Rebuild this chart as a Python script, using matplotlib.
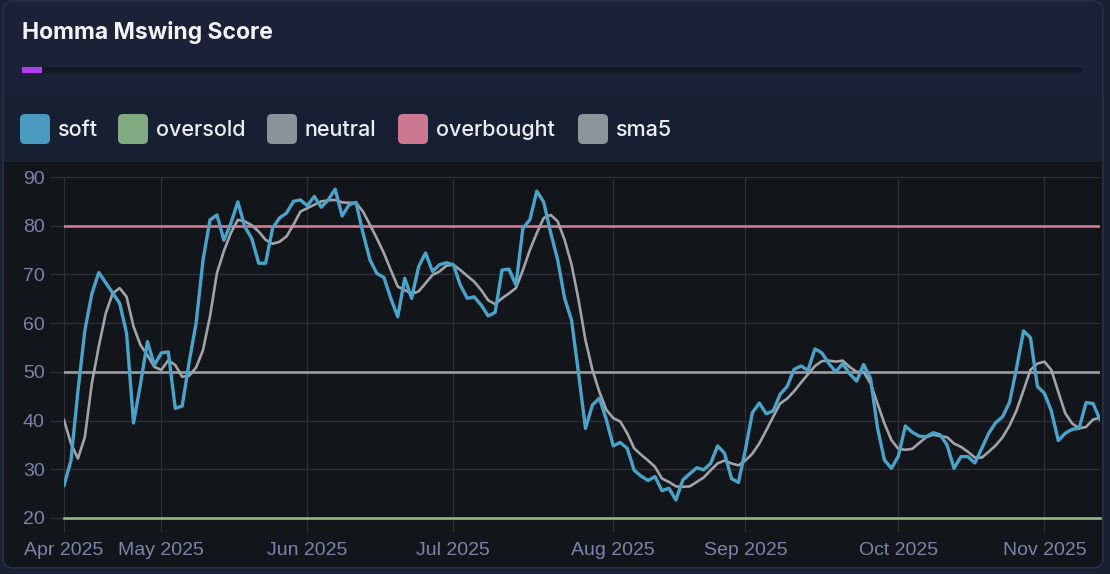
#=========================================================================
import numpy as np
import matplotlib
matplotlib.use('Agg')
import matplotlib.pyplot as plt
from matplotlib.patches import FancyBboxPatch
from matplotlib.transforms import IdentityTransform

#=========================================================================
title = 'Homma Mswing Score'

soft = [26.7, 31.8, 46.0, 58.5, 66.0, 70.4, 68.3, 66.2, 64.1, 57.9,
        39.5, 47.5, 56.2, 51.4, 53.9, 54.1, 42.5, 43.0, 52.0, 60.0,
        73.0, 81.2, 82.2, 77.0, 80.5, 84.9, 79.8, 77.4, 72.3, 72.3,
        79.5, 81.6, 82.6, 85.0, 85.3, 84.1, 86.0, 83.8, 85.3, 87.5,
        82.0, 84.3, 84.8, 78.5, 73.0, 70.2, 69.4, 65.1, 61.3, 69.2,
        65.1, 71.6, 74.4, 70.6, 72.0, 72.4, 72.0, 67.8, 65.1, 65.4,
        63.7, 61.5, 62.2, 70.9, 71.1, 67.8, 79.5, 81.2, 87.1, 84.8,
        78.5, 73.0, 65.1, 60.6, 49.7, 38.4, 43.2, 44.6, 40.2, 34.8,
        35.5, 34.3, 29.8, 28.6, 27.7, 28.5, 25.6, 26.1, 23.7, 27.8,
        29.1, 30.3, 29.9, 31.2, 34.8, 33.3, 28.1, 27.3, 34.0, 41.6,
        43.6, 41.4, 42.0, 45.4, 47.0, 50.5, 51.2, 50.3, 54.7, 53.9,
        51.7, 50.0, 51.7, 49.6, 48.1, 51.5, 48.6, 38.5, 31.9, 30.2,
        32.7, 38.9, 37.6, 36.8, 36.7, 37.5, 37.1, 35.0, 30.2, 32.6,
        32.6, 31.3, 34.3, 37.4, 39.6, 40.8, 43.8, 50.8, 58.4, 57.0,
        47.0, 45.6, 42.0, 35.9, 37.4, 38.2, 38.4, 43.7, 43.5, 40.2]

sma5 = [40.1, 35.3, 32.2, 36.6, 47.6, 55.2, 62.0, 66.1, 67.2, 65.4,
        59.3, 55.5, 53.4, 51.0, 50.4, 52.4, 51.4, 49.0, 49.2, 50.9,
        54.5, 61.4, 70.3, 74.8, 78.5, 81.2, 80.9, 80.1, 78.8, 77.1,
        76.3, 76.7, 77.8, 80.2, 82.9, 83.6, 84.3, 85.0, 85.2, 85.3,
        84.8, 84.7, 84.7, 82.9, 80.2, 77.4, 74.4, 70.9, 67.5, 66.8,
        66.0, 66.5, 68.2, 69.9, 70.6, 71.8, 72.0, 70.9, 69.7, 68.5,
        66.8, 64.7, 63.9, 65.1, 66.1, 67.2, 70.9, 75.0, 78.5, 81.6,
        82.2, 80.9, 77.1, 72.0, 64.8, 56.5, 50.4, 45.9, 42.2, 40.5,
        39.8, 37.4, 34.3, 33.0, 31.8, 30.5, 28.1, 27.4, 26.5, 26.4,
        26.5, 27.4, 28.3, 29.8, 31.2, 31.8, 31.2, 30.8, 31.8, 33.2,
        35.3, 38.0, 40.8, 43.5, 44.5, 46.0, 47.8, 49.5, 51.2, 52.2,
        52.3, 52.1, 52.3, 51.0, 50.0, 50.0, 47.6, 43.5, 39.4, 36.0,
        34.2, 34.0, 34.2, 35.4, 36.6, 37.1, 36.8, 36.6, 35.3, 34.6,
        33.6, 32.4, 32.4, 33.6, 34.9, 36.6, 39.0, 42.1, 46.2, 50.4,
        51.7, 52.1, 50.4, 45.9, 41.5, 39.4, 38.4, 38.7, 40.2, 40.6]

oversold = 20
neutral = 50
overbought = 80

month_idx = [0, 14, 35, 56, 79, 98, 120, 141]
month_labels = ['Apr 2025', 'May 2025', 'Jun 2025', 'Jul 2025',
                'Aug 2025', 'Sep 2025', 'Oct 2025', 'Nov 2025']

legend_names = ['soft', 'oversold', 'neutral', 'overbought', 'sma5']

#=========================================================================
W, H = 1110, 574

def box(fig, x0, y0, x1, y1, color, rad=0, ec='none', lw=0, z=-5):
 #pixel coords, y from the top
  p = FancyBboxPatch((x0, H-y1), x1-x0, y1-y0,
                     boxstyle='round,pad=0,rounding_size=%g' %(rad),
                     transform=IdentityTransform(),
                     facecolor=color, edgecolor=ec, linewidth=lw, zorder=z)
  fig.add_artist(p)

def ptext(fig, x, y, s, **kw):
  fig.text(x/W, 1.0 - y/H, s, **kw)

#---------------------------------------------------------
def plotit():
  fig = plt.figure(figsize=(W/100, H/100), dpi=100)
  fig.patch.set_facecolor('#1a2034')

 #card, header, legend band, plot panel
  box(fig, 3, 1, 1103, 568, '#1b2237', rad=10, ec='#2a3248', lw=1, z=-9)
  box(fig, 4, 96, 1102, 162, '#172033', z=-8)
  box(fig, 4, 162, 1102, 567, '#121519', rad=9, z=-7)
  box(fig, 4, 162, 1102, 180, '#121519', z=-7)

  ptext(fig, 22, 39, title, color='#f2f4f8', fontsize=16.5, fontweight='bold',
        family=['Inter', 'DejaVu Sans'], va='baseline')

 #progress track
  box(fig, 22, 67, 1082, 73, '#121826', rad=3)
  box(fig, 22, 67, 42, 73, '#b23cf0', z=-4)

 #legend
  leg_colors = ['#4a9ac1', '#80aa80', '#8b9399', '#cc7890', '#8d959b']
  leg_x = [20, 118, 267, 398, 578]
  for name, c, x in zip(legend_names, leg_colors, leg_x):
    box(fig, x, 114, x+30, 144, c, rad=5, z=-3)
    ptext(fig, x+38, 136.5, name, color='#eceef3', fontsize=15.5,
          fontweight='medium', family=['Inter', 'DejaVu Sans'], va='baseline')

 #chart
  ax = fig.add_axes([64/W, 1.0-518/H, (1100-64)/W, (518-177)/H])
  ax.set_facecolor('none')

  x = np.arange(len(soft))
  ax.axhline(overbought, color='#d67a93', lw=1.9, zorder=2)
  ax.axhline(neutral, color='#9aa0a6', lw=1.9, zorder=2)
  ax.axhline(oversold, color='#8dba87', lw=1.9, zorder=2, clip_on=False)
  ax.plot(x, sma5, color='#a0a4a8', lw=1.9, zorder=3)
  ax.plot(x, soft, color='#4aa3ca', lw=2.4, zorder=4)

  ax.set_xlim(0, len(soft)-1)
  ax.set_ylim(20, 90)
  ax.set_xticks(month_idx, month_labels)
  ax.set_yticks(np.arange(20, 91, 10))
  ax.grid(True, color='#2d3034', lw=0.9, zorder=1)
  ax.set_axisbelow(True)
  ax.tick_params(length=10, width=0.9, color='#2d3034', labelcolor='#7b84ad',
                 labelsize=14, pad=4)
  ax.tick_params(axis='x', pad=7)
  for lab in ax.get_xticklabels() + ax.get_yticklabels():
    lab.set_family(['Liberation Sans', 'DejaVu Sans'])
  for s in ax.spines.values():
    s.set_visible(False)

  fig.savefig('out.png', dpi=100, facecolor=fig.get_facecolor())

#--------------------------------------------------------------------------------
if __name__== '__main__':
  plotit()
